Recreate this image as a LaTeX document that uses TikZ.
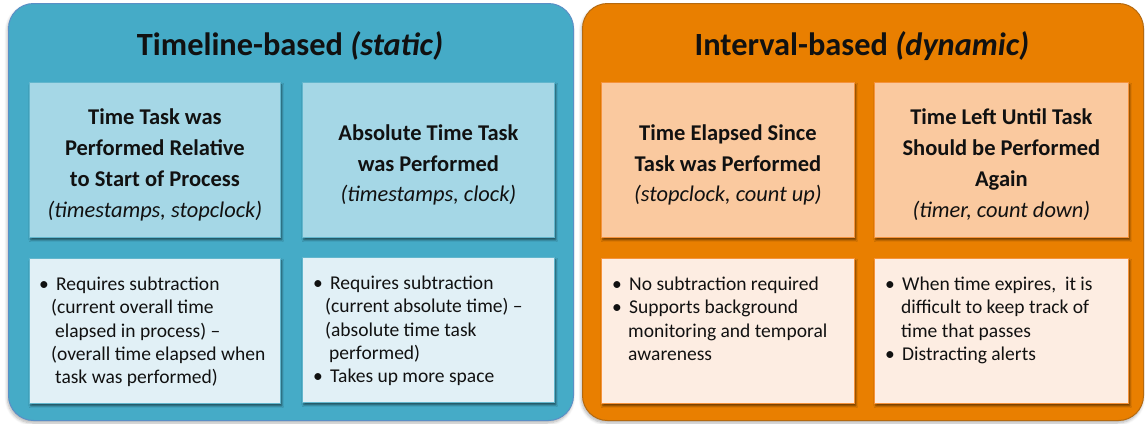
\documentclass[tikz,border=0pt]{standalone}
\usepackage{fontspec}
\setmainfont{Carlito}
\usetikzlibrary{shadows.blur}

\definecolor{tlblue}{HTML}{45ABC7}
\definecolor{tlblueedge}{HTML}{5A8FC6}
\definecolor{tlhead}{HTML}{A5D7E6}
\definecolor{tlbody}{HTML}{E1F0F6}
\definecolor{tlinedge}{HTML}{62B6CD}
\definecolor{ivorange}{HTML}{E97F00}
\definecolor{ivedge}{HTML}{B5690F}
\definecolor{ivhead}{HTML}{FAC99F}
\definecolor{ivbody}{HTML}{FDEDE2}
\definecolor{ivinedge}{HTML}{F5933C}
\definecolor{ink}{HTML}{111111}

% bullet with a fixed-height strut so every list starts at the same baseline
\newcommand{\bul}{\rule{0pt}{16bp}\makebox[17bp][l]{\textbullet}}
\newcommand{\cont}[1]{\hspace*{#1bp}}

\tikzset{
  panel/.style={rounded corners=25bp, line width=1bp, anchor=north west, inner sep=0pt,
    blur shadow={shadow xshift=-1bp, shadow yshift=-2.5bp, shadow opacity=30,
                 shadow blur steps=6, shadow blur radius=3bp}},
  card/.style={line width=0.8bp, anchor=north west, inner sep=0pt,
    blur shadow={shadow xshift=1.5bp, shadow yshift=-2.5bp, shadow opacity=55,
                 shadow blur steps=4, shadow blur radius=2bp}},
  headtext/.style={align=center, inner sep=0pt, text=ink, yshift=-5bp,
    font=\fontsize{22.6}{31}\selectfont\bfseries},
  bodytext/.style={anchor=north west, inner sep=0pt, align=left, text=ink,
    font=\fontsize{19.6}{23.3}\selectfont},
  paneltitle/.style={text=ink, font=\fontsize{32.5}{36}\selectfont\bfseries},
}
\newcommand{\sub}[1]{{\fontsize{22.5}{29.5}\selectfont\mdseries\itshape #1}}

\begin{document}
\begin{tikzpicture}[x=1bp, y=-1bp]
\useasboundingbox (0,0) rectangle (1145,423);

% two coloured panels
\node[panel, fill=tlblue, draw=tlblueedge, minimum width=565bp, minimum height=417bp] (lp) at (8,3) {};
\node[panel, fill=ivorange, draw=ivedge, minimum width=561bp, minimum height=417bp] (rp) at (582,3) {};

\node[paneltitle] (lt) at (290,46) {Timeline-based \textit{(static)}};
\node[paneltitle] (rt) at (862,46) {Interval-based \textit{(dynamic)}};

% heading cards
\node[card, fill=tlhead, draw=tlinedge, minimum width=251bp, minimum height=155bp] (h1) at (29,82) {};
\node[card, fill=tlhead, draw=tlinedge, minimum width=252bp, minimum height=155bp] (h2) at (302,82) {};
\node[card, fill=ivhead, draw=ivinedge, minimum width=253bp, minimum height=155bp] (h3) at (601,82) {};
\node[card, fill=ivhead, draw=ivinedge, minimum width=254bp, minimum height=155bp] (h4) at (874,82) {};

\node[headtext] (h1t) at (h1.center)
  {Time Task was\\Performed Relative\\to Start of Process\\\sub{(timestamps, stopclock)}};
\node[headtext] (h2t) at (h2.center)
  {Absolute Time Task\\was Performed\\\sub{(timestamps, clock)}};
\node[headtext] (h3t) at (h3.center)
  {Time Elapsed Since\\Task was Performed\\\sub{(stopclock, count up)}};
\node[headtext] (h4t) at (h4.center)
  {Time Left Until Task\\Should be Performed\\Again\\\sub{(timer, count down)}};

% detail cards
\node[card, fill=tlbody, draw=tlinedge, minimum width=251bp, minimum height=145bp] (d1) at (29,258) {};
\node[card, fill=tlbody, draw=tlinedge, minimum width=252bp, minimum height=145bp] (d2) at (302,257) {};
\node[card, fill=ivbody, draw=ivinedge, minimum width=253bp, minimum height=145bp] (d3) at (601,258) {};
\node[card, fill=ivbody, draw=ivinedge, minimum width=254bp, minimum height=145bp] (d4) at (874,258) {};

\node[bodytext] (d1t) at ([shift={(10bp,-16.5bp)}]d1.north west)
  {\bul Requires subtraction\\
   \cont{12}(current overall time\\
   \cont{16}elapsed in process) –\\
   \cont{12}(overall time elapsed when\\
   \cont{16}task was performed)};
\node[bodytext] (d2t) at ([shift={(11bp,-16.5bp)}]d2.north west)
  {\bul Requires subtraction\\
   \cont{12}(current absolute time) –\\
   \cont{12}(absolute time task\\
   \cont{16}performed)\\
   \bul Takes up more space};
\node[bodytext] (d3t) at ([shift={(11bp,-16.5bp)}]d3.north west)
  {\bul No subtraction required\\
   \bul Supports background\\
   \cont{16}monitoring and temporal\\
   \cont{16}awareness};
\node[bodytext] (d4t) at ([shift={(11bp,-16.5bp)}]d4.north west)
  {\bul When time expires,\ \ it is\\
   \cont{16}difficult to keep track of\\
   \cont{16}time that passes\\
   \bul Distracting alerts};
\end{tikzpicture}
\end{document}
